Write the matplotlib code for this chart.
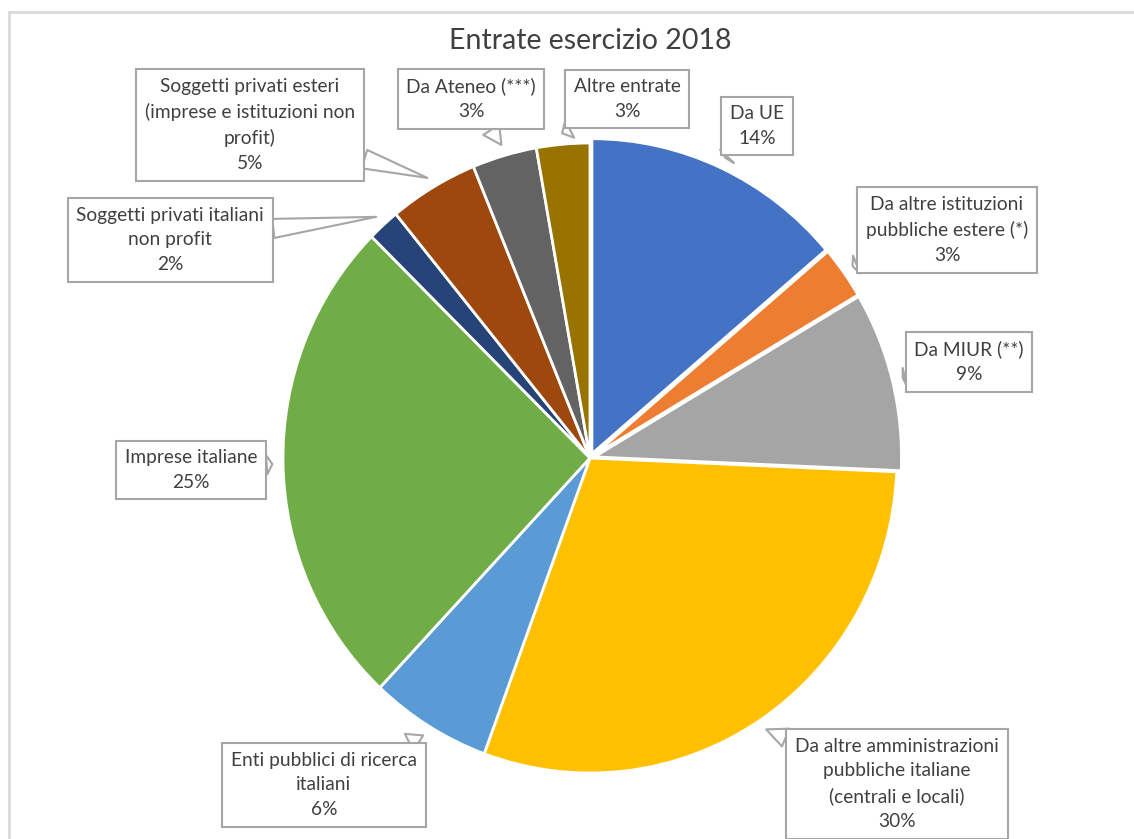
import matplotlib
matplotlib.use('Agg')
import matplotlib.pyplot as plt
from matplotlib.patches import Rectangle
import numpy as np

plt.rcParams['font.family'] = ['Lato', 'DejaVu Sans']

labels = ["Da UE",
          "Da altre istituzioni\npubbliche estere (*)",
          "Da MIUR (**)",
          "Da altre amministrazioni\npubbliche italiane\n(centrali e locali)",
          "Enti pubblici di ricerca\nitaliani",
          "Imprese italiane",
          "Soggetti privati italiani\nnon profit",
          "Soggetti privati esteri\n(imprese e istituzioni non\nprofit)",
          "Da Ateneo (***)",
          "Altre entrate"]
values = [13.8, 2.7, 9.2, 29.9, 6.4, 25.4, 1.7, 4.7, 3.4, 2.8]
colors = ['#4472C4', '#ED7D31', '#A5A5A5', '#FFC000', '#5B9BD5',
          '#70AD47', '#264478', '#9E480E', '#636363', '#997300']
explode = [0.015, 0.015, 0.015, 0, 0, 0, 0, 0, 0, 0]

# callout box centres in image pixels (from top-left)
box_pos = [(757, 126), (947, 230), (969, 362), (897, 784), (324, 785),
           (191, 470), (170, 240), (250, 125), (471, 99), (627, 99)]

W, H = 1134, 839
fig = plt.figure(figsize=(W / 100, H / 100), dpi=100)
cx, cy, rx, ry = 590, 458, 307, 315
ax = fig.add_axes([(cx - rx) / W, (H - cy - ry) / H, 2 * rx / W, 2 * ry / H])

wedges, _ = ax.pie(values, colors=colors, startangle=90, counterclock=False,
                   explode=explode, radius=1,
                   wedgeprops=dict(edgecolor='white', linewidth=2))
ax.set_aspect('auto')
ax.set_xlim(-1, 1)
ax.set_ylim(-1, 1)
ax.axis('off')

total = sum(values)
for w, lab, v, (px, py) in zip(wedges, labels, values, box_pos):
    ang = np.deg2rad((w.theta1 + w.theta2) / 2)
    tip = (1.035 * np.cos(ang) + w.center[0], 1.035 * np.sin(ang) + w.center[1])
    ax.annotate(f"{lab}\n{v / total * 100:.0f}%", xy=tip,
                xytext=(px, H - py), textcoords='figure pixels',
                ha='center', va='center', fontsize=13.8, color='#404040',
                linespacing=1.55, annotation_clip=False,
                bbox=dict(boxstyle='square,pad=0.45', fc='white',
                          ec='#a6a6a6', lw=1.5),
                arrowprops=dict(arrowstyle='wedge,tail_width=1.0,shrink_factor=0.5',
                                fc='white', ec='#a6a6a6', lw=1.5,
                                shrinkA=0, shrinkB=0))

fig.text(cx / W, 1 - 41 / H, "Entrate esercizio 2018", ha='center', va='center',
         fontsize=20.5, color='#404040')

fig.patches.append(Rectangle((9 / W, -0.01), 1.0, 1 - 12 / H + 0.01,
                             transform=fig.transFigure, fill=False,
                             ec='#d9d9d9', lw=2))

fig.savefig('out.png', dpi=100)
